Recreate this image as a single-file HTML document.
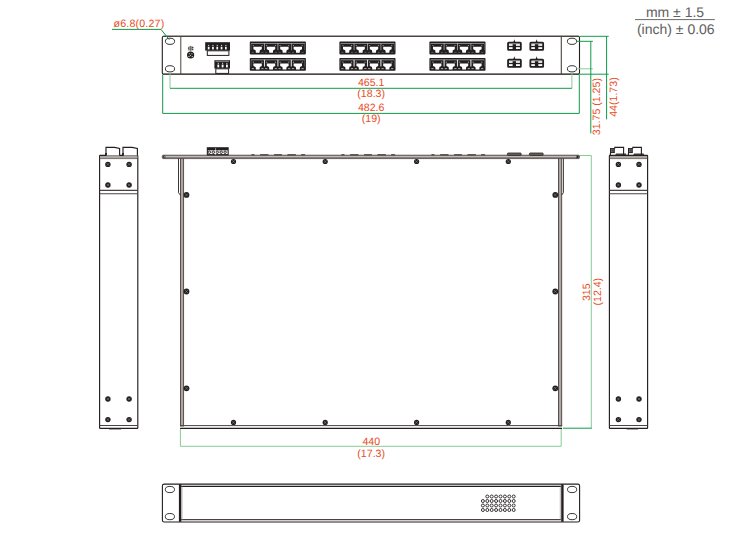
<!DOCTYPE html><html><head><meta charset="utf-8"><style>html,body{margin:0;padding:0;background:#fff;overflow:hidden}svg{display:block}text{font-family:"Liberation Sans",sans-serif;text-rendering:geometricPrecision}</style></head><body>
<svg width="751" height="553" viewBox="0 0 751 553">
<rect width="751" height="553" fill="#fff"/>
<rect x="162.3" y="36.3" width="417.2" height="37.9" rx="1.5" fill="#fff" stroke="#231f20" stroke-width="1.1"/>
<line x1="163" y1="36.4" x2="579" y2="36.4" stroke="#4a4340" stroke-width="1.2"/>
<line x1="163" y1="74.1" x2="579" y2="74.1" stroke="#4a4340" stroke-width="1.3"/>
<line x1="180.8" y1="36.5" x2="180.8" y2="74" stroke="#4a4340" stroke-width="1"/>
<line x1="561.3" y1="36.5" x2="561.3" y2="74" stroke="#4a4340" stroke-width="1.1"/>
<ellipse cx="170" cy="41.3" rx="4.6" ry="3.1" fill="#fff" stroke="#231f20" stroke-width="0.9"/>
<ellipse cx="170" cy="68.8" rx="4.6" ry="3.1" fill="#fff" stroke="#231f20" stroke-width="0.9"/>
<ellipse cx="572" cy="41.3" rx="4.6" ry="3.1" fill="#fff" stroke="#231f20" stroke-width="0.9"/>
<ellipse cx="572" cy="68.8" rx="4.6" ry="3.1" fill="#fff" stroke="#231f20" stroke-width="0.9"/>
<circle cx="190.6" cy="55.0" r="3.6" fill="#231f20"/>
<circle cx="189.29999999999998" cy="53.7" r="0.55" fill="#fff"/>
<circle cx="191.9" cy="53.7" r="0.55" fill="#fff"/>
<circle cx="190.6" cy="55.2" r="0.55" fill="#fff"/>
<circle cx="192.2" cy="56.6" r="0.55" fill="#fff"/>
<circle cx="189.0" cy="56.4" r="0.55" fill="#fff"/>
<path d="M188.9,46.3H192.3L193.3,47.5V50.5H188V47.5Z" fill="#9a9490"/>
<line x1="190.6" y1="45.8" x2="190.6" y2="51.4" stroke="#4a4340" stroke-width="0.8" opacity="0.7"/>
<circle cx="188.4" cy="48.0" r="0.6" fill="#231f20"/>
<circle cx="192.8" cy="47.4" r="0.6" fill="#231f20"/>
<circle cx="192.7" cy="49.5" r="0.6" fill="#231f20"/>
<rect x="205.2" y="42.2" width="24.8" height="8.4" fill="#231f20"/>
<rect x="207.8" y="46.8" width="1.7" height="2.6" fill="#fff"/>
<rect x="208.10000000000002" y="44.9" width="1.1" height="1.1" fill="#fff" opacity="0.8"/>
<rect x="212.10000000000002" y="46.8" width="1.7" height="2.6" fill="#fff"/>
<rect x="212.40000000000003" y="44.9" width="1.1" height="1.1" fill="#fff" opacity="0.8"/>
<rect x="216.4" y="46.8" width="1.7" height="2.6" fill="#fff"/>
<rect x="216.70000000000002" y="44.9" width="1.1" height="1.1" fill="#fff" opacity="0.8"/>
<rect x="220.70000000000002" y="46.8" width="1.7" height="2.6" fill="#fff"/>
<rect x="221.00000000000003" y="44.9" width="1.1" height="1.1" fill="#fff" opacity="0.8"/>
<rect x="225.0" y="46.8" width="1.7" height="2.6" fill="#fff"/>
<rect x="225.3" y="44.9" width="1.1" height="1.1" fill="#fff" opacity="0.8"/>
<rect x="207.3" y="50.8" width="21.6" height="4.6" fill="#fff" stroke="#231f20" stroke-width="1"/>
<rect x="214.4" y="60.2" width="15.6" height="8.4" fill="#231f20"/>
<line x1="215.5" y1="61.3" x2="229" y2="61.3" stroke="#fff" stroke-width="0.5"/>
<rect x="217.4" y="64.6" width="1.8" height="2.8" fill="#fff"/>
<rect x="217.75" y="62.8" width="1.1" height="1.1" fill="#fff" opacity="0.8"/>
<rect x="221.70000000000002" y="64.6" width="1.8" height="2.8" fill="#fff"/>
<rect x="222.05" y="62.8" width="1.1" height="1.1" fill="#fff" opacity="0.8"/>
<rect x="226.0" y="64.6" width="1.8" height="2.8" fill="#fff"/>
<rect x="226.35" y="62.8" width="1.1" height="1.1" fill="#fff" opacity="0.8"/>
<rect x="215.8" y="68.8" width="12.8" height="4.6" fill="#fff" stroke="#231f20" stroke-width="1"/>
<rect x="249.8" y="41.6" width="56.1" height="12.8" rx="0.8" fill="#231f20"/>
<line x1="251.10000000000002" y1="43.4" x2="304.6" y2="43.4" stroke="#fff" stroke-width="0.6" opacity="0.85"/>
<line x1="251.10000000000002" y1="43.4" x2="251.10000000000002" y2="50.2" stroke="#fff" stroke-width="0.45" opacity="0.5"/>
<line x1="264.5" y1="43.4" x2="264.5" y2="50.2" stroke="#fff" stroke-width="0.6" opacity="0.85"/>
<line x1="277.90000000000003" y1="43.4" x2="277.90000000000003" y2="50.2" stroke="#fff" stroke-width="0.6" opacity="0.85"/>
<line x1="291.3" y1="43.4" x2="291.3" y2="50.2" stroke="#fff" stroke-width="0.6" opacity="0.85"/>
<line x1="304.70000000000005" y1="43.4" x2="304.70000000000005" y2="50.2" stroke="#fff" stroke-width="0.45" opacity="0.5"/>
<path d="M253.40,46.70H261.80V49.20L259.80,50.20L259.50,52.80H255.90L255.60,50.20L253.40,49.20Z" fill="#fff"/>
<circle cx="253.30" cy="45.50" r="0.6" fill="#fff" opacity="0.6"/>
<circle cx="262.00" cy="45.50" r="0.6" fill="#fff" opacity="0.6"/>
<rect x="251.70" y="51.900000000000006" width="2.2" height="0.8" fill="#fff" opacity="0.3"/>
<rect x="261.30" y="51.900000000000006" width="2.2" height="0.8" fill="#fff" opacity="0.3"/>
<path d="M266.80,46.70H275.20V49.20L273.20,50.20L272.90,52.80H269.30L269.00,50.20L266.80,49.20Z" fill="#fff"/>
<circle cx="266.70" cy="45.50" r="0.6" fill="#fff" opacity="0.6"/>
<circle cx="275.40" cy="45.50" r="0.6" fill="#fff" opacity="0.6"/>
<rect x="265.10" y="51.900000000000006" width="2.2" height="0.8" fill="#fff" opacity="0.3"/>
<rect x="274.70" y="51.900000000000006" width="2.2" height="0.8" fill="#fff" opacity="0.3"/>
<path d="M280.20,46.70H288.60V49.20L286.60,50.20L286.30,52.80H282.70L282.40,50.20L280.20,49.20Z" fill="#fff"/>
<circle cx="280.10" cy="45.50" r="0.6" fill="#fff" opacity="0.6"/>
<circle cx="288.80" cy="45.50" r="0.6" fill="#fff" opacity="0.6"/>
<rect x="278.50" y="51.900000000000006" width="2.2" height="0.8" fill="#fff" opacity="0.3"/>
<rect x="288.10" y="51.900000000000006" width="2.2" height="0.8" fill="#fff" opacity="0.3"/>
<path d="M293.60,46.70H302.00V49.20L300.00,50.20L299.70,52.80H296.10L295.80,50.20L293.60,49.20Z" fill="#fff"/>
<circle cx="293.50" cy="45.50" r="0.6" fill="#fff" opacity="0.6"/>
<circle cx="302.20" cy="45.50" r="0.6" fill="#fff" opacity="0.6"/>
<rect x="291.90" y="51.900000000000006" width="2.2" height="0.8" fill="#fff" opacity="0.3"/>
<rect x="301.50" y="51.900000000000006" width="2.2" height="0.8" fill="#fff" opacity="0.3"/>
<rect x="249.8" y="58.0" width="56.1" height="12.8" rx="0.8" fill="#231f20"/>
<line x1="251.10000000000002" y1="59.8" x2="304.6" y2="59.8" stroke="#fff" stroke-width="0.6" opacity="0.85"/>
<line x1="251.10000000000002" y1="59.8" x2="251.10000000000002" y2="66.6" stroke="#fff" stroke-width="0.45" opacity="0.5"/>
<line x1="264.5" y1="59.8" x2="264.5" y2="66.6" stroke="#fff" stroke-width="1.1" opacity="0.85"/>
<line x1="277.90000000000003" y1="59.8" x2="277.90000000000003" y2="66.6" stroke="#fff" stroke-width="1.1" opacity="0.85"/>
<line x1="291.3" y1="59.8" x2="291.3" y2="66.6" stroke="#fff" stroke-width="1.1" opacity="0.85"/>
<line x1="304.70000000000005" y1="59.8" x2="304.70000000000005" y2="66.6" stroke="#fff" stroke-width="0.45" opacity="0.5"/>
<path d="M253.40,63.40H261.80V65.90L259.80,66.90L259.50,69.50H255.90L255.60,66.90L253.40,65.90Z" fill="#fff"/>
<circle cx="253.30" cy="62.20" r="0.6" fill="#fff" opacity="0.6"/>
<circle cx="262.00" cy="62.20" r="0.6" fill="#fff" opacity="0.6"/>
<rect x="251.70" y="68.3" width="2.2" height="0.8" fill="#fff" opacity="0.8"/>
<rect x="261.30" y="68.3" width="2.2" height="0.8" fill="#fff" opacity="0.8"/>
<path d="M266.80,63.40H275.20V65.90L273.20,66.90L272.90,69.50H269.30L269.00,66.90L266.80,65.90Z" fill="#fff"/>
<circle cx="266.70" cy="62.20" r="0.6" fill="#fff" opacity="0.6"/>
<circle cx="275.40" cy="62.20" r="0.6" fill="#fff" opacity="0.6"/>
<rect x="265.10" y="68.3" width="2.2" height="0.8" fill="#fff" opacity="0.8"/>
<rect x="274.70" y="68.3" width="2.2" height="0.8" fill="#fff" opacity="0.8"/>
<path d="M280.20,63.40H288.60V65.90L286.60,66.90L286.30,69.50H282.70L282.40,66.90L280.20,65.90Z" fill="#fff"/>
<circle cx="280.10" cy="62.20" r="0.6" fill="#fff" opacity="0.6"/>
<circle cx="288.80" cy="62.20" r="0.6" fill="#fff" opacity="0.6"/>
<rect x="278.50" y="68.3" width="2.2" height="0.8" fill="#fff" opacity="0.8"/>
<rect x="288.10" y="68.3" width="2.2" height="0.8" fill="#fff" opacity="0.8"/>
<path d="M293.60,63.40H302.00V65.90L300.00,66.90L299.70,69.50H296.10L295.80,66.90L293.60,65.90Z" fill="#fff"/>
<circle cx="293.50" cy="62.20" r="0.6" fill="#fff" opacity="0.6"/>
<circle cx="302.20" cy="62.20" r="0.6" fill="#fff" opacity="0.6"/>
<rect x="291.90" y="68.3" width="2.2" height="0.8" fill="#fff" opacity="0.8"/>
<rect x="301.50" y="68.3" width="2.2" height="0.8" fill="#fff" opacity="0.8"/>
<rect x="339.4" y="41.6" width="56.1" height="12.8" rx="0.8" fill="#231f20"/>
<line x1="340.7" y1="43.4" x2="394.2" y2="43.4" stroke="#fff" stroke-width="0.6" opacity="0.85"/>
<line x1="340.7" y1="43.4" x2="340.7" y2="50.2" stroke="#fff" stroke-width="0.45" opacity="0.5"/>
<line x1="354.09999999999997" y1="43.4" x2="354.09999999999997" y2="50.2" stroke="#fff" stroke-width="0.6" opacity="0.85"/>
<line x1="367.5" y1="43.4" x2="367.5" y2="50.2" stroke="#fff" stroke-width="0.6" opacity="0.85"/>
<line x1="380.9" y1="43.4" x2="380.9" y2="50.2" stroke="#fff" stroke-width="0.6" opacity="0.85"/>
<line x1="394.3" y1="43.4" x2="394.3" y2="50.2" stroke="#fff" stroke-width="0.45" opacity="0.5"/>
<path d="M343.00,46.70H351.40V49.20L349.40,50.20L349.10,52.80H345.50L345.20,50.20L343.00,49.20Z" fill="#fff"/>
<circle cx="342.90" cy="45.50" r="0.6" fill="#fff" opacity="0.6"/>
<circle cx="351.60" cy="45.50" r="0.6" fill="#fff" opacity="0.6"/>
<rect x="341.30" y="51.900000000000006" width="2.2" height="0.8" fill="#fff" opacity="0.3"/>
<rect x="350.90" y="51.900000000000006" width="2.2" height="0.8" fill="#fff" opacity="0.3"/>
<path d="M356.40,46.70H364.80V49.20L362.80,50.20L362.50,52.80H358.90L358.60,50.20L356.40,49.20Z" fill="#fff"/>
<circle cx="356.30" cy="45.50" r="0.6" fill="#fff" opacity="0.6"/>
<circle cx="365.00" cy="45.50" r="0.6" fill="#fff" opacity="0.6"/>
<rect x="354.70" y="51.900000000000006" width="2.2" height="0.8" fill="#fff" opacity="0.3"/>
<rect x="364.30" y="51.900000000000006" width="2.2" height="0.8" fill="#fff" opacity="0.3"/>
<path d="M369.80,46.70H378.20V49.20L376.20,50.20L375.90,52.80H372.30L372.00,50.20L369.80,49.20Z" fill="#fff"/>
<circle cx="369.70" cy="45.50" r="0.6" fill="#fff" opacity="0.6"/>
<circle cx="378.40" cy="45.50" r="0.6" fill="#fff" opacity="0.6"/>
<rect x="368.10" y="51.900000000000006" width="2.2" height="0.8" fill="#fff" opacity="0.3"/>
<rect x="377.70" y="51.900000000000006" width="2.2" height="0.8" fill="#fff" opacity="0.3"/>
<path d="M383.20,46.70H391.60V49.20L389.60,50.20L389.30,52.80H385.70L385.40,50.20L383.20,49.20Z" fill="#fff"/>
<circle cx="383.10" cy="45.50" r="0.6" fill="#fff" opacity="0.6"/>
<circle cx="391.80" cy="45.50" r="0.6" fill="#fff" opacity="0.6"/>
<rect x="381.50" y="51.900000000000006" width="2.2" height="0.8" fill="#fff" opacity="0.3"/>
<rect x="391.10" y="51.900000000000006" width="2.2" height="0.8" fill="#fff" opacity="0.3"/>
<rect x="339.4" y="58.0" width="56.1" height="12.8" rx="0.8" fill="#231f20"/>
<line x1="340.7" y1="59.8" x2="394.2" y2="59.8" stroke="#fff" stroke-width="0.6" opacity="0.85"/>
<line x1="340.7" y1="59.8" x2="340.7" y2="66.6" stroke="#fff" stroke-width="0.45" opacity="0.5"/>
<line x1="354.09999999999997" y1="59.8" x2="354.09999999999997" y2="66.6" stroke="#fff" stroke-width="1.1" opacity="0.85"/>
<line x1="367.5" y1="59.8" x2="367.5" y2="66.6" stroke="#fff" stroke-width="1.1" opacity="0.85"/>
<line x1="380.9" y1="59.8" x2="380.9" y2="66.6" stroke="#fff" stroke-width="1.1" opacity="0.85"/>
<line x1="394.3" y1="59.8" x2="394.3" y2="66.6" stroke="#fff" stroke-width="0.45" opacity="0.5"/>
<path d="M343.00,63.40H351.40V65.90L349.40,66.90L349.10,69.50H345.50L345.20,66.90L343.00,65.90Z" fill="#fff"/>
<circle cx="342.90" cy="62.20" r="0.6" fill="#fff" opacity="0.6"/>
<circle cx="351.60" cy="62.20" r="0.6" fill="#fff" opacity="0.6"/>
<rect x="341.30" y="68.3" width="2.2" height="0.8" fill="#fff" opacity="0.8"/>
<rect x="350.90" y="68.3" width="2.2" height="0.8" fill="#fff" opacity="0.8"/>
<path d="M356.40,63.40H364.80V65.90L362.80,66.90L362.50,69.50H358.90L358.60,66.90L356.40,65.90Z" fill="#fff"/>
<circle cx="356.30" cy="62.20" r="0.6" fill="#fff" opacity="0.6"/>
<circle cx="365.00" cy="62.20" r="0.6" fill="#fff" opacity="0.6"/>
<rect x="354.70" y="68.3" width="2.2" height="0.8" fill="#fff" opacity="0.8"/>
<rect x="364.30" y="68.3" width="2.2" height="0.8" fill="#fff" opacity="0.8"/>
<path d="M369.80,63.40H378.20V65.90L376.20,66.90L375.90,69.50H372.30L372.00,66.90L369.80,65.90Z" fill="#fff"/>
<circle cx="369.70" cy="62.20" r="0.6" fill="#fff" opacity="0.6"/>
<circle cx="378.40" cy="62.20" r="0.6" fill="#fff" opacity="0.6"/>
<rect x="368.10" y="68.3" width="2.2" height="0.8" fill="#fff" opacity="0.8"/>
<rect x="377.70" y="68.3" width="2.2" height="0.8" fill="#fff" opacity="0.8"/>
<path d="M383.20,63.40H391.60V65.90L389.60,66.90L389.30,69.50H385.70L385.40,66.90L383.20,65.90Z" fill="#fff"/>
<circle cx="383.10" cy="62.20" r="0.6" fill="#fff" opacity="0.6"/>
<circle cx="391.80" cy="62.20" r="0.6" fill="#fff" opacity="0.6"/>
<rect x="381.50" y="68.3" width="2.2" height="0.8" fill="#fff" opacity="0.8"/>
<rect x="391.10" y="68.3" width="2.2" height="0.8" fill="#fff" opacity="0.8"/>
<rect x="429.4" y="41.6" width="56.1" height="12.8" rx="0.8" fill="#231f20"/>
<line x1="430.7" y1="43.4" x2="484.2" y2="43.4" stroke="#fff" stroke-width="0.6" opacity="0.85"/>
<line x1="430.7" y1="43.4" x2="430.7" y2="50.2" stroke="#fff" stroke-width="0.45" opacity="0.5"/>
<line x1="444.09999999999997" y1="43.4" x2="444.09999999999997" y2="50.2" stroke="#fff" stroke-width="0.6" opacity="0.85"/>
<line x1="457.5" y1="43.4" x2="457.5" y2="50.2" stroke="#fff" stroke-width="0.6" opacity="0.85"/>
<line x1="470.9" y1="43.4" x2="470.9" y2="50.2" stroke="#fff" stroke-width="0.6" opacity="0.85"/>
<line x1="484.3" y1="43.4" x2="484.3" y2="50.2" stroke="#fff" stroke-width="0.45" opacity="0.5"/>
<path d="M433.00,46.70H441.40V49.20L439.40,50.20L439.10,52.80H435.50L435.20,50.20L433.00,49.20Z" fill="#fff"/>
<circle cx="432.90" cy="45.50" r="0.6" fill="#fff" opacity="0.6"/>
<circle cx="441.60" cy="45.50" r="0.6" fill="#fff" opacity="0.6"/>
<rect x="431.30" y="51.900000000000006" width="2.2" height="0.8" fill="#fff" opacity="0.3"/>
<rect x="440.90" y="51.900000000000006" width="2.2" height="0.8" fill="#fff" opacity="0.3"/>
<path d="M446.40,46.70H454.80V49.20L452.80,50.20L452.50,52.80H448.90L448.60,50.20L446.40,49.20Z" fill="#fff"/>
<circle cx="446.30" cy="45.50" r="0.6" fill="#fff" opacity="0.6"/>
<circle cx="455.00" cy="45.50" r="0.6" fill="#fff" opacity="0.6"/>
<rect x="444.70" y="51.900000000000006" width="2.2" height="0.8" fill="#fff" opacity="0.3"/>
<rect x="454.30" y="51.900000000000006" width="2.2" height="0.8" fill="#fff" opacity="0.3"/>
<path d="M459.80,46.70H468.20V49.20L466.20,50.20L465.90,52.80H462.30L462.00,50.20L459.80,49.20Z" fill="#fff"/>
<circle cx="459.70" cy="45.50" r="0.6" fill="#fff" opacity="0.6"/>
<circle cx="468.40" cy="45.50" r="0.6" fill="#fff" opacity="0.6"/>
<rect x="458.10" y="51.900000000000006" width="2.2" height="0.8" fill="#fff" opacity="0.3"/>
<rect x="467.70" y="51.900000000000006" width="2.2" height="0.8" fill="#fff" opacity="0.3"/>
<path d="M473.20,46.70H481.60V49.20L479.60,50.20L479.30,52.80H475.70L475.40,50.20L473.20,49.20Z" fill="#fff"/>
<circle cx="473.10" cy="45.50" r="0.6" fill="#fff" opacity="0.6"/>
<circle cx="481.80" cy="45.50" r="0.6" fill="#fff" opacity="0.6"/>
<rect x="471.50" y="51.900000000000006" width="2.2" height="0.8" fill="#fff" opacity="0.3"/>
<rect x="481.10" y="51.900000000000006" width="2.2" height="0.8" fill="#fff" opacity="0.3"/>
<rect x="429.4" y="58.0" width="56.1" height="12.8" rx="0.8" fill="#231f20"/>
<line x1="430.7" y1="59.8" x2="484.2" y2="59.8" stroke="#fff" stroke-width="0.6" opacity="0.85"/>
<line x1="430.7" y1="59.8" x2="430.7" y2="66.6" stroke="#fff" stroke-width="0.45" opacity="0.5"/>
<line x1="444.09999999999997" y1="59.8" x2="444.09999999999997" y2="66.6" stroke="#fff" stroke-width="1.1" opacity="0.85"/>
<line x1="457.5" y1="59.8" x2="457.5" y2="66.6" stroke="#fff" stroke-width="1.1" opacity="0.85"/>
<line x1="470.9" y1="59.8" x2="470.9" y2="66.6" stroke="#fff" stroke-width="1.1" opacity="0.85"/>
<line x1="484.3" y1="59.8" x2="484.3" y2="66.6" stroke="#fff" stroke-width="0.45" opacity="0.5"/>
<path d="M433.00,63.40H441.40V65.90L439.40,66.90L439.10,69.50H435.50L435.20,66.90L433.00,65.90Z" fill="#fff"/>
<circle cx="432.90" cy="62.20" r="0.6" fill="#fff" opacity="0.6"/>
<circle cx="441.60" cy="62.20" r="0.6" fill="#fff" opacity="0.6"/>
<rect x="431.30" y="68.3" width="2.2" height="0.8" fill="#fff" opacity="0.8"/>
<rect x="440.90" y="68.3" width="2.2" height="0.8" fill="#fff" opacity="0.8"/>
<path d="M446.40,63.40H454.80V65.90L452.80,66.90L452.50,69.50H448.90L448.60,66.90L446.40,65.90Z" fill="#fff"/>
<circle cx="446.30" cy="62.20" r="0.6" fill="#fff" opacity="0.6"/>
<circle cx="455.00" cy="62.20" r="0.6" fill="#fff" opacity="0.6"/>
<rect x="444.70" y="68.3" width="2.2" height="0.8" fill="#fff" opacity="0.8"/>
<rect x="454.30" y="68.3" width="2.2" height="0.8" fill="#fff" opacity="0.8"/>
<path d="M459.80,63.40H468.20V65.90L466.20,66.90L465.90,69.50H462.30L462.00,66.90L459.80,65.90Z" fill="#fff"/>
<circle cx="459.70" cy="62.20" r="0.6" fill="#fff" opacity="0.6"/>
<circle cx="468.40" cy="62.20" r="0.6" fill="#fff" opacity="0.6"/>
<rect x="458.10" y="68.3" width="2.2" height="0.8" fill="#fff" opacity="0.8"/>
<rect x="467.70" y="68.3" width="2.2" height="0.8" fill="#fff" opacity="0.8"/>
<path d="M473.20,63.40H481.60V65.90L479.60,66.90L479.30,69.50H475.70L475.40,66.90L473.20,65.90Z" fill="#fff"/>
<circle cx="473.10" cy="62.20" r="0.6" fill="#fff" opacity="0.6"/>
<circle cx="481.80" cy="62.20" r="0.6" fill="#fff" opacity="0.6"/>
<rect x="471.50" y="68.3" width="2.2" height="0.8" fill="#fff" opacity="0.8"/>
<rect x="481.10" y="68.3" width="2.2" height="0.8" fill="#fff" opacity="0.8"/>
<rect x="508.05" y="42.65" width="12.8" height="7.3" rx="0.6" fill="#fff" stroke="#231f20" stroke-width="1.8"/>
<rect x="512.6" y="44.199999999999996" width="3.4" height="6" fill="#231f20"/>
<line x1="508.2" y1="46.5" x2="520.7" y2="46.5" stroke="#231f20" stroke-width="1.3"/>
<line x1="508.7" y1="44.0" x2="520.2" y2="44.0" stroke="#231f20" stroke-width="0.5" opacity="0.5"/>
<path d="M513.4,42.0L514.4,39.199999999999996L515.2,42.0Z" fill="#231f20"/>
<rect x="508.05" y="59.65" width="12.8" height="7.3" rx="0.6" fill="#fff" stroke="#231f20" stroke-width="1.8"/>
<rect x="512.6" y="61.199999999999996" width="3.4" height="6" fill="#231f20"/>
<line x1="508.2" y1="63.5" x2="520.7" y2="63.5" stroke="#231f20" stroke-width="1.3"/>
<line x1="508.7" y1="61.0" x2="520.2" y2="61.0" stroke="#231f20" stroke-width="0.5" opacity="0.5"/>
<path d="M513.4,59.0L514.4,56.199999999999996L515.2,59.0Z" fill="#231f20"/>
<rect x="530.35" y="42.65" width="12.8" height="7.3" rx="0.6" fill="#fff" stroke="#231f20" stroke-width="1.8"/>
<rect x="534.9" y="44.199999999999996" width="3.4" height="6" fill="#231f20"/>
<line x1="530.5" y1="46.5" x2="543.0" y2="46.5" stroke="#231f20" stroke-width="1.3"/>
<line x1="531.0" y1="44.0" x2="542.5" y2="44.0" stroke="#231f20" stroke-width="0.5" opacity="0.5"/>
<path d="M535.7,42.0L536.7,39.199999999999996L537.5,42.0Z" fill="#231f20"/>
<rect x="530.35" y="59.65" width="12.8" height="7.3" rx="0.6" fill="#fff" stroke="#231f20" stroke-width="1.8"/>
<rect x="534.9" y="61.199999999999996" width="3.4" height="6" fill="#231f20"/>
<line x1="530.5" y1="63.5" x2="543.0" y2="63.5" stroke="#231f20" stroke-width="1.3"/>
<line x1="531.0" y1="61.0" x2="542.5" y2="61.0" stroke="#231f20" stroke-width="0.5" opacity="0.5"/>
<path d="M535.7,59.0L536.7,56.199999999999996L537.5,59.0Z" fill="#231f20"/>
<polyline points="112,29.4 161,29.4 169.3,39.8" fill="none" stroke="#0f9a4a" stroke-width="1"/>
<text x="113.5" y="27.2" font-size="10.6" letter-spacing="0.2" fill="#e84c1e">ø6.8(0.27)</text>
<polyline points="162.7,74.5 162.7,113.4 579.3,113.4 579.3,74.5" fill="none" stroke="#0f9a4a" stroke-width="1"/>
<polyline points="170,72 170,88.3" fill="none" stroke="#86cc96" stroke-width="1"/>
<polyline points="571.9,72 571.9,88.3" fill="none" stroke="#86cc96" stroke-width="1"/>
<line x1="170" y1="88.3" x2="571.9" y2="88.3" stroke="#0f9a4a" stroke-width="1"/>
<text x="371.2" y="86.0" font-size="10.6" fill="#e84c1e" text-anchor="middle">465.1</text>
<text x="371.2" y="97.3" font-size="10.6" fill="#e84c1e" text-anchor="middle">(18.3)</text>
<text x="371.2" y="111.0" font-size="10.6" fill="#e84c1e" text-anchor="middle">482.6</text>
<text x="371.2" y="121.8" font-size="10.6" fill="#e84c1e" text-anchor="middle">(19)</text>
<line x1="579.5" y1="36.3" x2="608.7" y2="36.3" stroke="#0f9a4a" stroke-width="1"/>
<line x1="579.5" y1="74.2" x2="608.7" y2="74.2" stroke="#0f9a4a" stroke-width="1"/>
<line x1="606.6" y1="36.3" x2="606.6" y2="119.4" stroke="#0f9a4a" stroke-width="1"/>
<line x1="576.5" y1="41.3" x2="592.9" y2="41.3" stroke="#0f9a4a" stroke-width="1"/>
<line x1="576.5" y1="68.8" x2="592.9" y2="68.8" stroke="#86cc96" stroke-width="1"/>
<line x1="590.8" y1="41.3" x2="590.8" y2="133.3" stroke="#0f9a4a" stroke-width="1"/>
<text transform="translate(599.6,135.2) rotate(-90)" font-size="10.6" fill="#e84c1e">31.75 (1.25)</text>
<text transform="translate(616.6,116.8) rotate(-90)" font-size="10.6" fill="#e84c1e">44(1.73)</text>
<text x="675" y="16.7" font-size="14" fill="#606060" text-anchor="middle">mm ± 1.5</text>
<line x1="635" y1="19.6" x2="714.8" y2="19.6" stroke="#6a6a6a" stroke-width="1"/>
<text x="675.8" y="33.5" font-size="14" fill="#606060" text-anchor="middle">(inch) ± 0.06</text>
<rect x="180.5" y="157" width="3.1" height="269" fill="#aca5a1" stroke="#4a4340" stroke-width="0.9"/>
<rect x="558.5" y="157" width="3.2" height="269" fill="#aca5a1" stroke="#4a4340" stroke-width="0.9"/>
<rect x="162.3" y="155.2" width="417.2" height="3.4" rx="1" fill="#8a827e" stroke="#4a4340" stroke-width="0.8"/>
<line x1="164" y1="156.5" x2="578" y2="156.5" stroke="#cfc9c5" stroke-width="0.8"/>
<rect x="163.2" y="155.9" width="1.8" height="2" fill="none" stroke="#231f20" stroke-width="0.5"/>
<rect x="576.8" y="155.9" width="1.8" height="2" fill="none" stroke="#231f20" stroke-width="0.5"/>
<polyline points="178.5,158.6 178.5,192.7 180.3,195" fill="none" stroke="#231f20" stroke-width="0.9"/>
<polyline points="563.4,158.6 563.4,192.7 561.7,195" fill="none" stroke="#231f20" stroke-width="0.9"/>
<line x1="180.1" y1="425.6" x2="562.1" y2="425.6" stroke="#4a4340" stroke-width="1.0"/>
<line x1="180.1" y1="428.4" x2="562.1" y2="428.4" stroke="#231f20" stroke-width="1.1"/>
<rect x="206.8" y="147.2" width="21.9" height="8.2" fill="#231f20"/>
<rect x="207.9" y="150.3" width="19.7" height="3.8" fill="#fff"/>
<circle cx="209.30" cy="152.2" r="1.25" fill="none" stroke="#231f20" stroke-width="0.95"/>
<circle cx="213.25" cy="152.2" r="1.25" fill="none" stroke="#231f20" stroke-width="0.95"/>
<circle cx="217.20" cy="152.2" r="1.25" fill="none" stroke="#231f20" stroke-width="0.95"/>
<circle cx="221.15" cy="152.2" r="1.25" fill="none" stroke="#231f20" stroke-width="0.95"/>
<circle cx="225.10" cy="152.2" r="1.25" fill="none" stroke="#231f20" stroke-width="0.95"/>
<line x1="215.6" y1="148" x2="215.6" y2="155" stroke="#fff" stroke-width="0.5"/>
<rect x="507.4" y="153.0" width="13.8" height="2.3" rx="0.8" fill="#6d6662" stroke="#231f20" stroke-width="0.8"/>
<rect x="529.4" y="153.0" width="13.8" height="2.3" rx="0.8" fill="#6d6662" stroke="#231f20" stroke-width="0.8"/>
<rect x="251.3" y="153.9" width="3.3" height="1.5" rx="0.6" fill="#4a4340" opacity="0.85"/>
<rect x="260.0" y="153.9" width="8.6" height="1.5" rx="0.6" fill="#4a4340" opacity="0.85"/>
<rect x="274.0" y="153.9" width="8.0" height="1.5" rx="0.6" fill="#4a4340" opacity="0.85"/>
<rect x="287.3" y="153.9" width="8.7" height="1.5" rx="0.6" fill="#4a4340" opacity="0.85"/>
<rect x="301.0" y="153.9" width="4.2" height="1.5" rx="0.6" fill="#4a4340" opacity="0.85"/>
<rect x="341.3" y="153.9" width="3.3" height="1.5" rx="0.6" fill="#4a4340" opacity="0.85"/>
<rect x="350.0" y="153.9" width="8.6" height="1.5" rx="0.6" fill="#4a4340" opacity="0.85"/>
<rect x="364.0" y="153.9" width="8.0" height="1.5" rx="0.6" fill="#4a4340" opacity="0.85"/>
<rect x="377.3" y="153.9" width="8.7" height="1.5" rx="0.6" fill="#4a4340" opacity="0.85"/>
<rect x="391.0" y="153.9" width="4.2" height="1.5" rx="0.6" fill="#4a4340" opacity="0.85"/>
<rect x="431.3" y="153.9" width="3.3" height="1.5" rx="0.6" fill="#4a4340" opacity="0.85"/>
<rect x="440.0" y="153.9" width="8.6" height="1.5" rx="0.6" fill="#4a4340" opacity="0.85"/>
<rect x="454.0" y="153.9" width="8.0" height="1.5" rx="0.6" fill="#4a4340" opacity="0.85"/>
<rect x="467.3" y="153.9" width="8.7" height="1.5" rx="0.6" fill="#4a4340" opacity="0.85"/>
<rect x="481.0" y="153.9" width="4.2" height="1.5" rx="0.6" fill="#4a4340" opacity="0.85"/>
<circle cx="233.5" cy="161.5" r="2.6" fill="#231f20"/>
<path d="M232.20,160.20L234.80,162.80M232.20,162.80L234.80,160.20" stroke="#fff" stroke-width="0.5" opacity="0.55"/>
<circle cx="233.5" cy="422.4" r="2.6" fill="#231f20"/>
<path d="M232.20,421.10L234.80,423.70M232.20,423.70L234.80,421.10" stroke="#fff" stroke-width="0.5" opacity="0.55"/>
<circle cx="325.2" cy="161.5" r="2.6" fill="#231f20"/>
<path d="M323.90,160.20L326.50,162.80M323.90,162.80L326.50,160.20" stroke="#fff" stroke-width="0.5" opacity="0.55"/>
<circle cx="325.2" cy="422.4" r="2.6" fill="#231f20"/>
<path d="M323.90,421.10L326.50,423.70M323.90,423.70L326.50,421.10" stroke="#fff" stroke-width="0.5" opacity="0.55"/>
<circle cx="416.6" cy="161.5" r="2.6" fill="#231f20"/>
<path d="M415.30,160.20L417.90,162.80M415.30,162.80L417.90,160.20" stroke="#fff" stroke-width="0.5" opacity="0.55"/>
<circle cx="416.6" cy="422.4" r="2.6" fill="#231f20"/>
<path d="M415.30,421.10L417.90,423.70M415.30,423.70L417.90,421.10" stroke="#fff" stroke-width="0.5" opacity="0.55"/>
<circle cx="508.3" cy="161.5" r="2.6" fill="#231f20"/>
<path d="M507.00,160.20L509.60,162.80M507.00,162.80L509.60,160.20" stroke="#fff" stroke-width="0.5" opacity="0.55"/>
<circle cx="508.3" cy="422.4" r="2.6" fill="#231f20"/>
<path d="M507.00,421.10L509.60,423.70M507.00,423.70L509.60,421.10" stroke="#fff" stroke-width="0.5" opacity="0.55"/>
<circle cx="186.5" cy="194.9" r="2.9" fill="#231f20"/>
<path d="M185.05,193.45L187.95,196.35M185.05,196.35L187.95,193.45" stroke="#fff" stroke-width="0.5" opacity="0.55"/>
<circle cx="555.3" cy="194.9" r="2.9" fill="#231f20"/>
<path d="M553.85,193.45L556.75,196.35M553.85,196.35L556.75,193.45" stroke="#fff" stroke-width="0.5" opacity="0.55"/>
<circle cx="186.5" cy="291.5" r="2.9" fill="#231f20"/>
<path d="M185.05,290.05L187.95,292.95M185.05,292.95L187.95,290.05" stroke="#fff" stroke-width="0.5" opacity="0.55"/>
<circle cx="555.3" cy="291.5" r="2.9" fill="#231f20"/>
<path d="M553.85,290.05L556.75,292.95M553.85,292.95L556.75,290.05" stroke="#fff" stroke-width="0.5" opacity="0.55"/>
<circle cx="186.5" cy="388.3" r="2.9" fill="#231f20"/>
<path d="M185.05,386.85L187.95,389.75M185.05,389.75L187.95,386.85" stroke="#fff" stroke-width="0.5" opacity="0.55"/>
<circle cx="555.3" cy="388.3" r="2.9" fill="#231f20"/>
<path d="M553.85,386.85L556.75,389.75M553.85,389.75L556.75,386.85" stroke="#fff" stroke-width="0.5" opacity="0.55"/>
<polyline points="180.4,429 180.4,446.3 561.2,446.3 561.2,429" fill="none" stroke="#86cc96" stroke-width="1"/>
<text x="371.3" y="444.8" font-size="10.6" fill="#e84c1e" text-anchor="middle">440</text>
<text x="371.2" y="457.3" font-size="10.6" fill="#e84c1e" text-anchor="middle">(17.3)</text>
<polyline points="579.6,155.5 591.3,155.5 591.3,428.2" fill="none" stroke="#86cc96" stroke-width="1"/>
<line x1="563" y1="428.2" x2="591.8" y2="428.2" stroke="#0f9a4a" stroke-width="1"/>
<text transform="translate(590.2,292.2) rotate(-90)" font-size="10.6" fill="#e84c1e" text-anchor="middle">315</text>
<text transform="translate(601.2,291.7) rotate(-90)" font-size="10.6" fill="#e84c1e" text-anchor="middle">(12.4)</text>
<rect x="99.6" y="155.4" width="38.2" height="272.9" rx="0.6" fill="#fff" stroke="#231f20" stroke-width="1.15"/>
<rect x="100.1" y="156.0" width="37.2" height="2.4" fill="#aca5a1"/>
<line x1="99.6" y1="158.6" x2="137.8" y2="158.6" stroke="#4a4340" stroke-width="0.7"/>
<line x1="99.6" y1="190.4" x2="137.8" y2="190.4" stroke="#4a4340" stroke-width="1.1"/>
<line x1="99.6" y1="193.7" x2="137.8" y2="193.7" stroke="#4a4340" stroke-width="1.1"/>
<line x1="99.6" y1="425.5" x2="137.8" y2="425.5" stroke="#4a4340" stroke-width="1.1"/>
<path d="M106.0,155.4V147.4H114.57L119.6,148.5V155.4" fill="#fff" stroke="#231f20" stroke-width="1.15"/>
<rect x="105.1" y="153.0" width="1.8" height="2.6" fill="#231f20"/>
<path d="M123.0,155.4V147.4H132.07L137.4,148.5V155.4" fill="#fff" stroke="#231f20" stroke-width="1.15"/>
<rect x="122.1" y="153.0" width="1.8" height="2.6" fill="#231f20"/>
<circle cx="107.9" cy="164.4" r="2.7" fill="#231f20"/>
<path d="M106.55,163.05L109.25,165.75M106.55,165.75L109.25,163.05" stroke="#fff" stroke-width="0.5" opacity="0.55"/>
<circle cx="107.9" cy="185.0" r="2.7" fill="#231f20"/>
<path d="M106.55,183.65L109.25,186.35M106.55,186.35L109.25,183.65" stroke="#fff" stroke-width="0.5" opacity="0.55"/>
<circle cx="107.9" cy="399.0" r="2.7" fill="#231f20"/>
<path d="M106.55,397.65L109.25,400.35M106.55,400.35L109.25,397.65" stroke="#fff" stroke-width="0.5" opacity="0.55"/>
<circle cx="107.9" cy="419.6" r="2.7" fill="#231f20"/>
<path d="M106.55,418.25L109.25,420.95M106.55,420.95L109.25,418.25" stroke="#fff" stroke-width="0.5" opacity="0.55"/>
<circle cx="129.1" cy="164.4" r="2.7" fill="#231f20"/>
<path d="M127.75,163.05L130.45,165.75M127.75,165.75L130.45,163.05" stroke="#fff" stroke-width="0.5" opacity="0.55"/>
<circle cx="129.1" cy="185.0" r="2.7" fill="#231f20"/>
<path d="M127.75,183.65L130.45,186.35M127.75,186.35L130.45,183.65" stroke="#fff" stroke-width="0.5" opacity="0.55"/>
<circle cx="129.1" cy="399.0" r="2.7" fill="#231f20"/>
<path d="M127.75,397.65L130.45,400.35M127.75,400.35L130.45,397.65" stroke="#fff" stroke-width="0.5" opacity="0.55"/>
<circle cx="129.1" cy="419.6" r="2.7" fill="#231f20"/>
<path d="M127.75,418.25L130.45,420.95M127.75,420.95L130.45,418.25" stroke="#fff" stroke-width="0.5" opacity="0.55"/>
<rect x="109" y="428.2" width="12" height="1.3" fill="#231f20" opacity="0.8"/>
<rect x="609.4" y="155.4" width="38.2" height="272.9" rx="0.6" fill="#fff" stroke="#231f20" stroke-width="1.15"/>
<rect x="609.9" y="156.0" width="37.2" height="2.4" fill="#aca5a1"/>
<line x1="609.4" y1="158.6" x2="647.6" y2="158.6" stroke="#4a4340" stroke-width="0.7"/>
<line x1="609.4" y1="190.4" x2="647.6" y2="190.4" stroke="#4a4340" stroke-width="1.1"/>
<line x1="609.4" y1="193.7" x2="647.6" y2="193.7" stroke="#4a4340" stroke-width="1.1"/>
<line x1="609.4" y1="425.5" x2="647.6" y2="425.5" stroke="#4a4340" stroke-width="1.1"/>
<circle cx="618.4" cy="164.4" r="2.7" fill="#231f20"/>
<path d="M617.05,163.05L619.75,165.75M617.05,165.75L619.75,163.05" stroke="#fff" stroke-width="0.5" opacity="0.55"/>
<circle cx="618.4" cy="185.0" r="2.7" fill="#231f20"/>
<path d="M617.05,183.65L619.75,186.35M617.05,186.35L619.75,183.65" stroke="#fff" stroke-width="0.5" opacity="0.55"/>
<circle cx="618.4" cy="399.0" r="2.7" fill="#231f20"/>
<path d="M617.05,397.65L619.75,400.35M617.05,400.35L619.75,397.65" stroke="#fff" stroke-width="0.5" opacity="0.55"/>
<circle cx="618.4" cy="419.6" r="2.7" fill="#231f20"/>
<path d="M617.05,418.25L619.75,420.95M617.05,420.95L619.75,418.25" stroke="#fff" stroke-width="0.5" opacity="0.55"/>
<circle cx="639.0" cy="164.4" r="2.7" fill="#231f20"/>
<path d="M637.65,163.05L640.35,165.75M637.65,165.75L640.35,163.05" stroke="#fff" stroke-width="0.5" opacity="0.55"/>
<circle cx="639.0" cy="185.0" r="2.7" fill="#231f20"/>
<path d="M637.65,183.65L640.35,186.35M637.65,186.35L640.35,183.65" stroke="#fff" stroke-width="0.5" opacity="0.55"/>
<circle cx="639.0" cy="399.0" r="2.7" fill="#231f20"/>
<path d="M637.65,397.65L640.35,400.35M637.65,400.35L640.35,397.65" stroke="#fff" stroke-width="0.5" opacity="0.55"/>
<circle cx="639.0" cy="419.6" r="2.7" fill="#231f20"/>
<path d="M637.65,418.25L640.35,420.95M637.65,420.95L640.35,418.25" stroke="#fff" stroke-width="0.5" opacity="0.55"/>
<rect x="610.0" y="148.0" width="4.8" height="5.1" fill="#231f20"/>
<path d="M611.4,149.2h1.8v2.6h-1.8z" fill="none" stroke="#fff" stroke-width="0.45" opacity="0.7"/>
<path d="M610.4,155.4V153.1M614.8,148.6V147.4H623.6V155.4" fill="none" stroke="#231f20" stroke-width="1.1"/>
<path d="M615.0,155.4L616.0,153.6H626.0L626.4,155.4Z" fill="#231f20" opacity="0.85"/>
<rect x="628.0" y="148.0" width="4.8" height="5.1" fill="#231f20"/>
<path d="M629.4,149.2h1.8v2.6h-1.8z" fill="none" stroke="#fff" stroke-width="0.45" opacity="0.7"/>
<path d="M628.4,155.4V153.1M632.8,148.6V147.4H641.4V155.4" fill="none" stroke="#231f20" stroke-width="1.1"/>
<path d="M633.0,155.4L634.0,153.6H643.8L644.1999999999999,155.4Z" fill="#231f20" opacity="0.85"/>
<rect x="626.6" y="428.2" width="11.4" height="1.3" fill="#231f20" opacity="0.8"/>
<rect x="162.4" y="484.1" width="417.2" height="37.9" rx="1.8" fill="#fff" stroke="#231f20" stroke-width="1.1"/>
<line x1="181" y1="486.3" x2="561" y2="486.3" stroke="#231f20" stroke-width="1.2"/>
<line x1="181" y1="519.7" x2="561" y2="519.7" stroke="#4a4340" stroke-width="1.2"/>
<rect x="178.9" y="484.3" width="2.4" height="37.5" fill="#231f20"/>
<line x1="182" y1="486.5" x2="182" y2="519.5" stroke="#aca5a1" stroke-width="0.8"/>
<rect x="561.2" y="484.3" width="2.4" height="37.5" fill="#231f20"/>
<line x1="560.3" y1="486.5" x2="560.3" y2="519.5" stroke="#aca5a1" stroke-width="0.8"/>
<ellipse cx="169.9" cy="489.5" rx="4.6" ry="3.1" fill="#fff" stroke="#231f20" stroke-width="0.9"/>
<ellipse cx="169.9" cy="516.6" rx="4.6" ry="3.1" fill="#fff" stroke="#231f20" stroke-width="0.9"/>
<ellipse cx="572.1" cy="489.5" rx="4.6" ry="3.1" fill="#fff" stroke="#231f20" stroke-width="0.9"/>
<ellipse cx="572.1" cy="516.6" rx="4.6" ry="3.1" fill="#fff" stroke="#231f20" stroke-width="0.9"/>
<circle cx="487.29999999999995" cy="496.5" r="1.5" fill="none" stroke="#231f20" stroke-width="0.9"/>
<circle cx="491.7" cy="496.5" r="1.5" fill="none" stroke="#231f20" stroke-width="0.9"/>
<circle cx="496.09999999999997" cy="496.5" r="1.5" fill="none" stroke="#231f20" stroke-width="0.9"/>
<circle cx="500.5" cy="496.5" r="1.5" fill="none" stroke="#231f20" stroke-width="0.9"/>
<circle cx="504.9" cy="496.5" r="1.5" fill="none" stroke="#231f20" stroke-width="0.9"/>
<circle cx="509.29999999999995" cy="496.5" r="1.5" fill="none" stroke="#231f20" stroke-width="0.9"/>
<circle cx="513.6999999999999" cy="496.5" r="1.5" fill="none" stroke="#231f20" stroke-width="0.9"/>
<circle cx="482.9" cy="501.0" r="1.5" fill="none" stroke="#231f20" stroke-width="0.9"/>
<circle cx="487.29999999999995" cy="501.0" r="1.5" fill="none" stroke="#231f20" stroke-width="0.9"/>
<circle cx="491.7" cy="501.0" r="1.5" fill="none" stroke="#231f20" stroke-width="0.9"/>
<circle cx="496.09999999999997" cy="501.0" r="1.5" fill="none" stroke="#231f20" stroke-width="0.9"/>
<circle cx="500.5" cy="501.0" r="1.5" fill="none" stroke="#231f20" stroke-width="0.9"/>
<circle cx="504.9" cy="501.0" r="1.5" fill="none" stroke="#231f20" stroke-width="0.9"/>
<circle cx="509.29999999999995" cy="501.0" r="1.5" fill="none" stroke="#231f20" stroke-width="0.9"/>
<circle cx="513.6999999999999" cy="501.0" r="1.5" fill="none" stroke="#231f20" stroke-width="0.9"/>
<circle cx="482.9" cy="505.5" r="1.5" fill="none" stroke="#231f20" stroke-width="0.9"/>
<circle cx="487.29999999999995" cy="505.5" r="1.5" fill="none" stroke="#231f20" stroke-width="0.9"/>
<circle cx="491.7" cy="505.5" r="1.5" fill="none" stroke="#231f20" stroke-width="0.9"/>
<circle cx="496.09999999999997" cy="505.5" r="1.5" fill="none" stroke="#231f20" stroke-width="0.9"/>
<circle cx="500.5" cy="505.5" r="1.5" fill="none" stroke="#231f20" stroke-width="0.9"/>
<circle cx="504.9" cy="505.5" r="1.5" fill="none" stroke="#231f20" stroke-width="0.9"/>
<circle cx="509.29999999999995" cy="505.5" r="1.5" fill="none" stroke="#231f20" stroke-width="0.9"/>
<circle cx="513.6999999999999" cy="505.5" r="1.5" fill="none" stroke="#231f20" stroke-width="0.9"/>
<circle cx="482.9" cy="510.0" r="1.5" fill="none" stroke="#231f20" stroke-width="0.9"/>
<circle cx="487.29999999999995" cy="510.0" r="1.5" fill="none" stroke="#231f20" stroke-width="0.9"/>
<circle cx="491.7" cy="510.0" r="1.5" fill="none" stroke="#231f20" stroke-width="0.9"/>
<circle cx="496.09999999999997" cy="510.0" r="1.5" fill="none" stroke="#231f20" stroke-width="0.9"/>
<circle cx="500.5" cy="510.0" r="1.5" fill="none" stroke="#231f20" stroke-width="0.9"/>
<circle cx="504.9" cy="510.0" r="1.5" fill="none" stroke="#231f20" stroke-width="0.9"/>
<circle cx="509.29999999999995" cy="510.0" r="1.5" fill="none" stroke="#231f20" stroke-width="0.9"/>
<circle cx="513.6999999999999" cy="510.0" r="1.5" fill="none" stroke="#231f20" stroke-width="0.9"/>
</svg></body></html>
